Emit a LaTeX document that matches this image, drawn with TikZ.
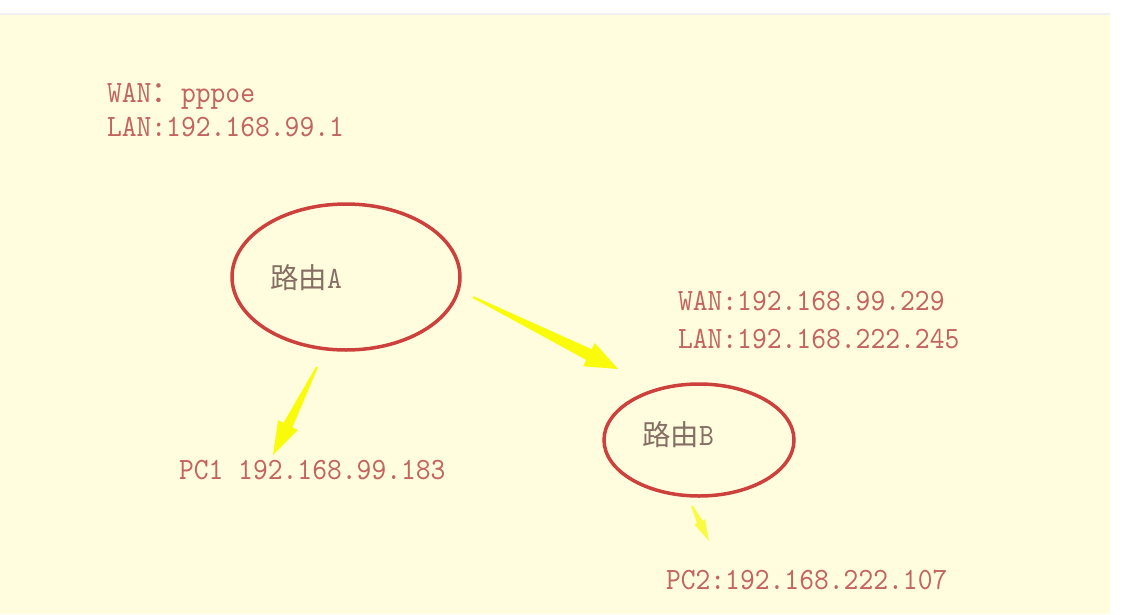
\documentclass[tikz,border=0pt]{standalone}
\usepackage{fontspec}
\usetikzlibrary{shapes.geometric,calc}
\newfontfamily\cjk{Noto Sans CJK SC}
\newfontfamily\lat{lmmono10-regular.otf}[FakeStretch=0.91]
\definecolor{paper}{RGB}{255,253,222}
\definecolor{txtred}{RGB}{196,100,94}
\definecolor{txtgray}{RGB}{135,110,100}
\definecolor{ringred}{RGB}{205,65,60}
\definecolor{brushyellow}{RGB}{250,250,0}
\newcommand\brusharrow[6]{%
  \coordinate (hb) at ($(#1)!#3!(#2)$);
  \fill[brushyellow,opacity=#6]
    ($(#1)!1pt!90:(#2)$) -- ($(hb)!#4!90:(#2)$) -- ($(hb)!#5!90:(#2)$) -- (#2)
    -- ($(hb)!#5!-90:(#2)$) -- ($(hb)!#4!-90:(#2)$) -- ($(#1)!1pt!-90:(#2)$) -- cycle;}
\tikzset{
  lbl/.style={anchor=base west,inner sep=0pt,outer sep=0pt,text=txtred,font=\lat\fontsize{31}{36}\selectfont},
  rname/.style={anchor=base west,inner sep=0pt,outer sep=0pt,text=txtgray},
  router/.style={ellipse,draw=ringred,line width=3.5pt,inner sep=0pt}
}
\begin{document}
\begin{tikzpicture}[x=1pt,y=-1pt]
\useasboundingbox (0,0) rectangle (1128,614);
\fill[white] (0,0) rectangle (1128,614);
\fill[black!6] (0,13) rectangle (1110,15);
\fill[paper] (0,15) rectangle (1110,614);

\node[lbl] (wanA) at (107,102) {WAN{\cjk\fontsize{29.6}{32}\selectfont ：}pppoe};
\node[lbl] (lanA) at (107,136) {LAN:192.168.99.1};

\node[router,minimum width=228pt,minimum height=146pt] (A) at (346,277) {};
\node[rname] (Atxt) at (270,288) {{\cjk\fontsize{28.5}{32}\selectfont 路由}{\lat\fontsize{31}{36}\selectfont A}};

\node[lbl] (wanB) at (678,310) {WAN:192.168.99.229};
\node[lbl] (lanB) at (678,348) {LAN:192.168.222.245};

\node[router,minimum width=190pt,minimum height=112pt] (B) at (699,440) {};
\node[rname] (Btxt) at (642,445) {{\cjk\fontsize{28.5}{32}\selectfont 路由}{\lat\fontsize{31}{36}\selectfont B}};

\node[lbl] (pc1) at (179,479) {PC1 192.168.99.183};
\node[lbl] (pc2) at (666,589) {PC2:192.168.222.107};

\coordinate (t1) at (473,297);
\coordinate (p1) at (618,369);
\coordinate (t2) at (317,367);
\coordinate (p2) at (273,455);
\coordinate (t3) at (692,506);
\coordinate (p3) at (709,541);
\brusharrow{t1}{p1}{0.8}{6pt}{13pt}{0.95}
\brusharrow{t2}{p2}{0.66}{5pt}{11pt}{0.95}
\brusharrow{t3}{p3}{0.45}{3pt}{6pt}{0.7}
\end{tikzpicture}
\end{document}
